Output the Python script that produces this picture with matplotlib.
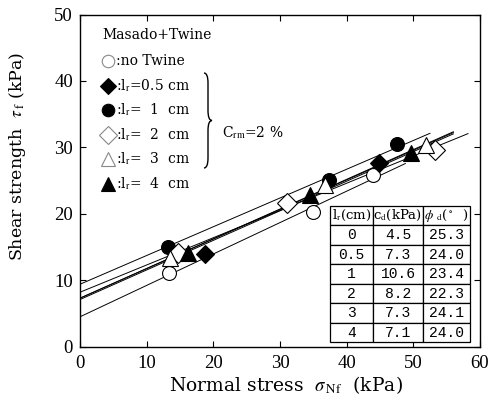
import numpy as np
import matplotlib
matplotlib.use("Agg")
import matplotlib.pyplot as plt
from matplotlib.path import Path
from matplotlib.patches import PathPatch

# ---------------- data ----------------
series_labels = [":no Twine", r":l$_\mathrm{r}$=0.5 cm", r":l$_\mathrm{r}$=  1  cm",
                 r":l$_\mathrm{r}$=  2  cm", r":l$_\mathrm{r}$=  3  cm", r":l$_\mathrm{r}$=  4  cm"]
x_none = [13.3, 34.9, 44.0]; y_none = [11.1, 20.3, 25.8]
x_05 = [18.8, 44.9];         y_05 = [13.9, 27.6]
x_1 = [13.2, 37.3, 47.6];    y_1 = [15.0, 25.1, 30.5]
x_2 = [14.7, 31.0, 53.2];    y_2 = [14.1, 21.6, 29.6]
x_3 = [13.5, 36.8, 51.9];    y_3 = [13.3, 24.3, 30.3]
x_4 = [16.2, 34.5, 49.7];    y_4 = [14.1, 22.8, 29.1]

# fitted strength lines (as drawn)
line_c = [4.5, 7.3, 9.4, 8.2, 7.3, 7.1]
line_phi = [25.3, 24.0, 23.4, 22.3, 24.1, 24.0]
line_xmax = [48.8, 56.0, 52.5, 58.2, 56.0, 56.0]

# table
tab_lr = ["0", "0.5", "1", "2", "3", "4"]
tab_cd = ["4.5", "7.3", "10.6", "8.2", "7.3", "7.1"]
tab_phi = ["25.3", "24.0", "23.4", "22.3", "24.1", "24.0"]
tab_header = [r"l$_\mathrm{r}$(cm)", r"c$_\mathrm{d}$(kPa)", r"$\phi$ $_\mathrm{d}$($^\circ$  )"]

xs = [x_none, x_05, x_1, x_2, x_3, x_4]
ys = [y_none, y_05, y_1, y_2, y_3, y_4]
markers = ["o", "D", "o", "D", "^", "^"]
filled = [False, True, True, False, False, True]
msizes = [10, 9, 10, 10, 11, 11]

plt.rcParams["font.family"] = ["Liberation Serif", "DejaVu Serif"]
plt.rcParams["mathtext.fontset"] = "stix"

fig = plt.figure(figsize=(4.92, 4.08), dpi=100)
ax = fig.add_axes([80/492, 1-346.7/408, 400/492, 332.2/408])

for c, phi, xm in zip(line_c, line_phi, line_xmax):
    xx = np.array([0.0, xm])
    ax.plot(xx, c + xx*np.tan(np.radians(phi)), color="black", lw=0.7, zorder=2)

for x, y, m, f, ms in zip(xs, ys, markers, filled, msizes):
    ax.plot(x, y, linestyle="none", marker=m, ms=ms, mfc="black" if f else "white",
            mec="black", mew=0.8, zorder=3)

ax.set_xlim(0, 60)
ax.set_ylim(0, 50)
ax.set_xticks(range(0, 61, 10))
ax.set_yticks(range(0, 51, 10))
ax.tick_params(direction="in", length=4, width=0.8, top=True, right=True,
               labelsize=13.5)
ax.tick_params(axis="x", pad=6)
ax.tick_params(axis="y", pad=5)
for s in ax.spines.values():
    s.set_linewidth(1.0)

fig.text(286/492, 1-385/408, r"Normal stress  $\sigma_{\,\mathrm{Nf}}$  (kPa)",
         ha="center", va="center", fontsize=13.5, family="DejaVu Serif")
fig.text(18/492, 1-156/408, r"Shear strength  $\tau_{\,\mathrm{f}}$ (kPa)",
         ha="center", va="center", rotation=90, fontsize=12.5, family="DejaVu Serif")

# legend (manual)
def axx(px):
    return (px-80)/400
def axy(py):
    return (346.7-py)/332.2

ax.text(axx(102), axy(35), "Masado+Twine", transform=ax.transAxes, fontsize=10,
        family="DejaVu Serif", va="center", ha="left")
for i, (lab, m, f, ms) in enumerate(zip(series_labels, markers, filled, msizes)):
    py = 61 + 24.5*i
    ax.plot([axx(108)], [axy(py)], transform=ax.transAxes, marker=m, ms=ms*0.9,
            mfc="black" if f else "white", mec="black" if f else "#888888", mew=0.8,
            linestyle="none", clip_on=False)
    ax.text(axx(116), axy(py), lab, transform=ax.transAxes, fontsize=10,
            family="DejaVu Serif", va="center", ha="left")

# brace
x0 = axx(204); w = 4/400
top = axy(73); bot = axy(168); mid = (top+bot)/2; d = 10/332.2
verts = [(x0, top), (x0+w, top), (x0+w, top-d),
         (x0+w, mid+d), (x0+w, mid), (x0+2*w, mid),
         (x0+w, mid), (x0+w, mid-d),
         (x0+w, bot+d), (x0+w, bot), (x0, bot)]
codes = [Path.MOVETO, Path.CURVE3, Path.CURVE3,
         Path.LINETO, Path.CURVE3, Path.CURVE3,
         Path.CURVE3, Path.CURVE3,
         Path.LINETO, Path.CURVE3, Path.CURVE3]
ax.add_patch(PathPatch(Path(verts, codes), transform=ax.transAxes, fill=False,
                       lw=1.0, color="black", clip_on=False))
ax.text(axx(222), axy(133), r"C$_{\mathrm{rm}}$=2 %", transform=ax.transAxes,
        fontsize=10, family="DejaVu Serif", va="center", ha="left")

# table
cells = [[a, b, c] for a, b, c in zip(tab_lr, tab_cd, tab_phi)]
tb = ax.table(cellText=cells, colLabels=tab_header, cellLoc="center",
              bbox=[axx(330), axy(342.3), (470-330)/400, (342.3-206)/332.2],
              colWidths=[43, 50, 47])
tb.auto_set_font_size(False)
for (r, c), cell in tb.get_celld().items():
    cell.set_linewidth(0.9)
    cell.set_facecolor("white")
    t = cell.get_text()
    if r == 0:
        t.set_fontsize(9.5)
        t.set_fontfamily("DejaVu Serif")
    else:
        t.set_fontsize(10.5)
        t.set_fontfamily("Liberation Mono")
tb.set_zorder(5)

fig.savefig("out.png", dpi=100)
